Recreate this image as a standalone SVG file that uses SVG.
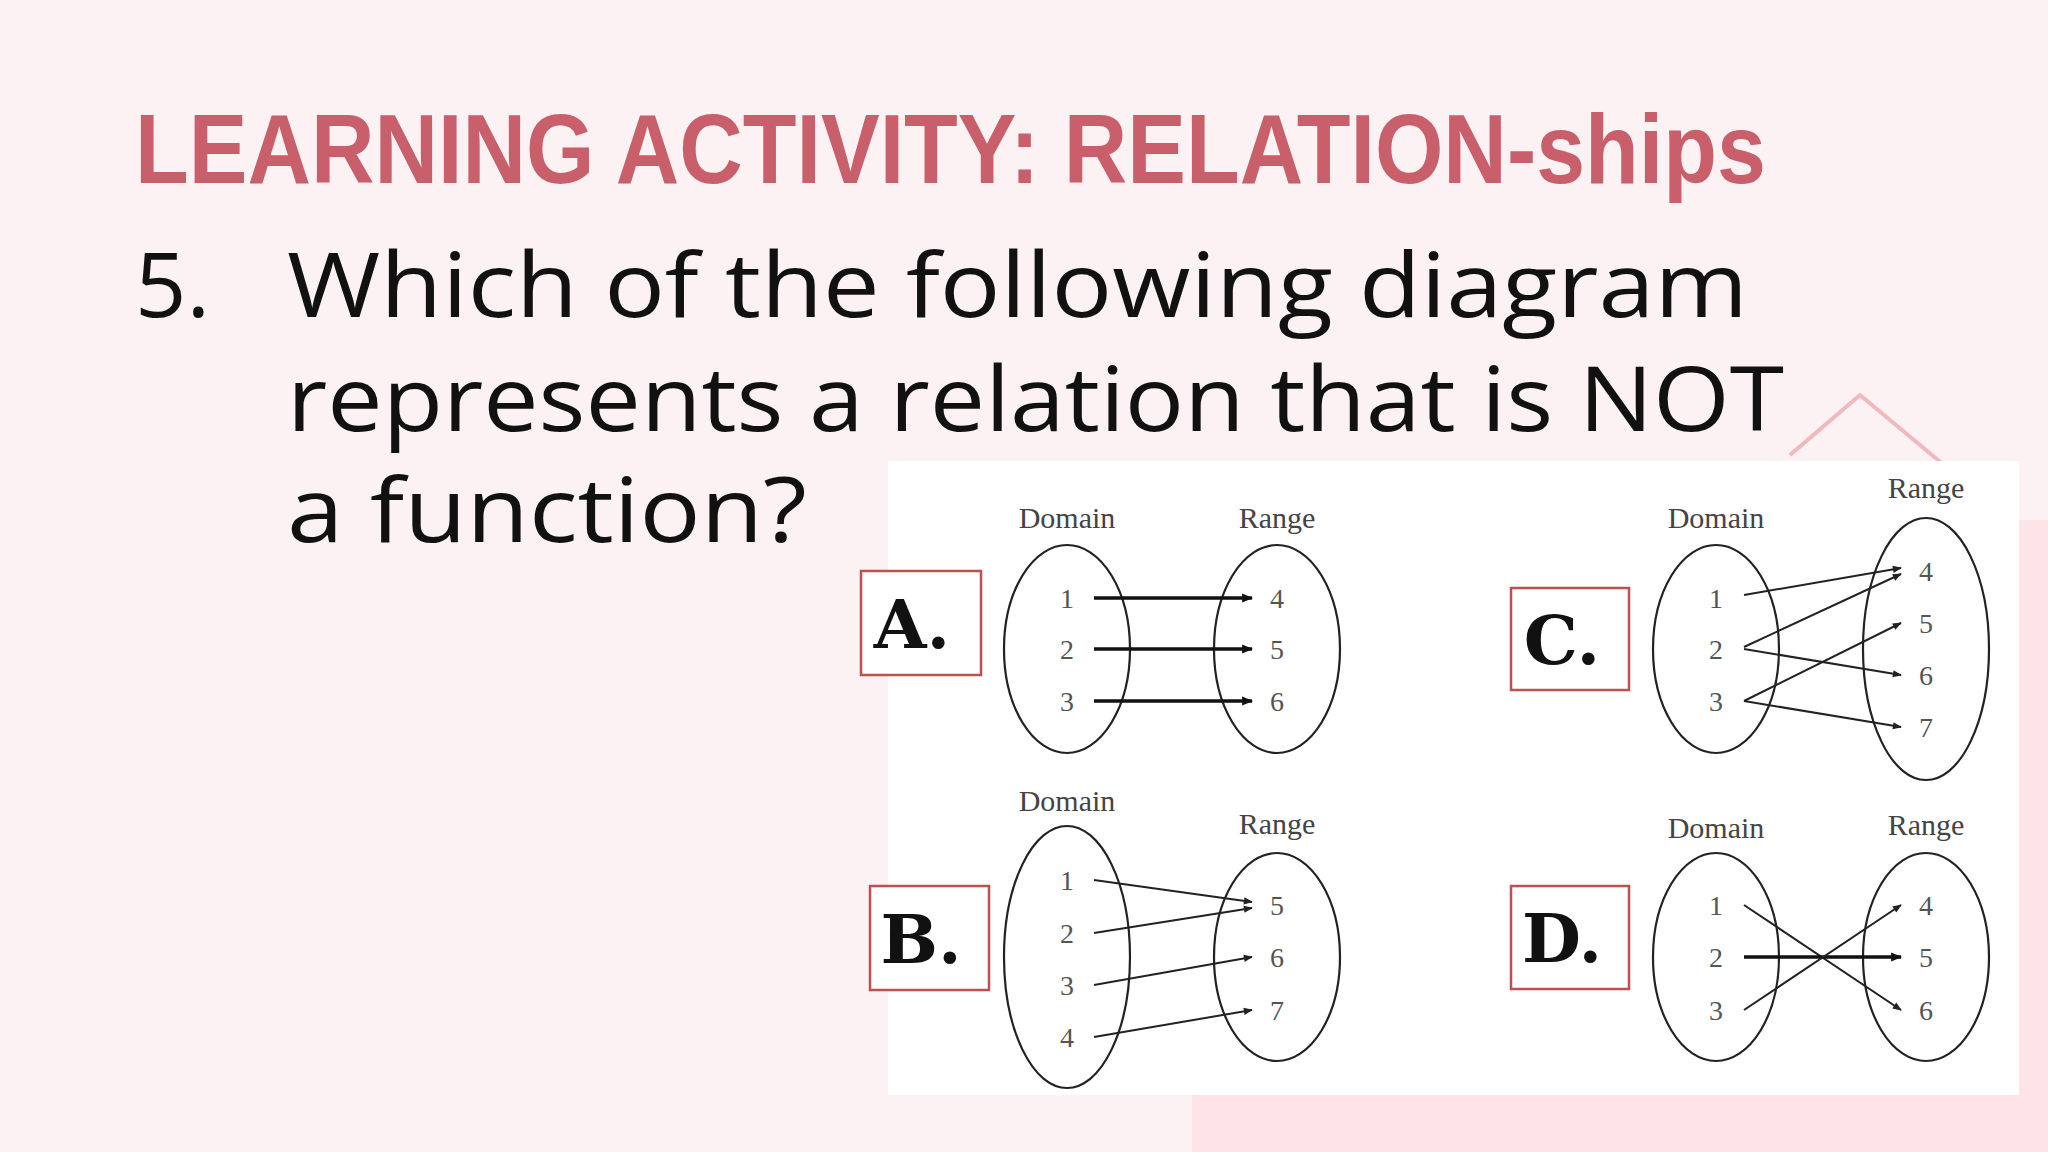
<svg xmlns="http://www.w3.org/2000/svg" width="2048" height="1152" viewBox="0 0 2048 1152">
<defs>
<marker id="ah" viewBox="0 0 10 10" refX="9" refY="5" markerWidth="10" markerHeight="9" markerUnits="userSpaceOnUse" orient="auto"><path d="M0,1 L10,5 L0,9 z" fill="#222"/></marker>
<marker id="ahb" viewBox="0 0 10 10" refX="9" refY="5" markerWidth="13" markerHeight="11" markerUnits="userSpaceOnUse" orient="auto"><path d="M0,1 L10,5 L0,9 z" fill="#111"/></marker>
</defs>
<style>
.ell{fill:none;stroke:#222;stroke-width:2.2}
.lbl{font-family:"Liberation Serif",serif;font-size:30px;fill:#444;text-anchor:middle}
.num{font-family:"Liberation Serif",serif;font-size:28px;fill:#555;text-anchor:middle}
.ar{stroke:#222;stroke-width:2;fill:none;marker-end:url(#ah)}
.arb{stroke:#111;stroke-width:3.5;fill:none;marker-end:url(#ahb)}
.box{fill:#fff;stroke:#c0504d;stroke-width:2.5}
.let{font-family:"DejaVu Serif",serif;font-weight:bold;font-size:68px;fill:#111;text-anchor:middle}
.q{font-family:"Open Sans","Liberation Sans",sans-serif;font-size:90px;fill:#111}
</style>
<rect width="2048" height="1152" fill="#fdf2f3"/>
<rect x="1192" y="1090" width="856" height="62" fill="#fde4e7"/>
<rect x="2015" y="520" width="33" height="632" fill="#fde4e7"/>
<path d="M1790,455 L1860,395 L1950,470" fill="none" stroke="#f2b8be" stroke-width="4"/>
<text x="135" y="183" font-family="Liberation Sans,sans-serif" font-weight="bold" font-size="98" fill="#c95f6a" textLength="1631" lengthAdjust="spacingAndGlyphs">LEARNING ACTIVITY: RELATION-ships</text>
<text class="q" x="135" y="317">5.</text>
<text class="q" x="287" y="317" textLength="1461" lengthAdjust="spacingAndGlyphs">Which of the following diagram</text>
<text class="q" x="287" y="431" textLength="1497" lengthAdjust="spacingAndGlyphs">represents a relation that is NOT</text>
<text class="q" x="287" y="542" textLength="520" lengthAdjust="spacingAndGlyphs">a function?</text>
<rect x="888" y="461" width="1131" height="634" fill="#fff"/>
<g id="A">
<text class="lbl" x="1067" y="528">Domain</text><text class="lbl" x="1277" y="528">Range</text>
<ellipse class="ell" cx="1067" cy="649" rx="63" ry="104"/><ellipse class="ell" cx="1277" cy="649" rx="63" ry="104"/>
<text class="num" x="1067" y="608">1</text><text class="num" x="1067" y="659">2</text><text class="num" x="1067" y="711">3</text>
<text class="num" x="1277" y="608">4</text><text class="num" x="1277" y="659">5</text><text class="num" x="1277" y="711">6</text>
<rect class="box" x="861" y="571" width="120" height="104"/><text class="let" x="912" y="648">A.</text>
</g>
<g id="B">
<text class="lbl" x="1067" y="811">Domain</text><text class="lbl" x="1277" y="834">Range</text>
<ellipse class="ell" cx="1067" cy="957" rx="63" ry="131"/><ellipse class="ell" cx="1277" cy="957" rx="63" ry="104"/>
<text class="num" x="1067" y="890">1</text><text class="num" x="1067" y="943">2</text><text class="num" x="1067" y="995">3</text><text class="num" x="1067" y="1047">4</text>
<text class="num" x="1277" y="915">5</text><text class="num" x="1277" y="967">6</text><text class="num" x="1277" y="1020">7</text>
<rect class="box" x="870" y="886" width="119" height="104"/><text class="let" x="921" y="963">B.</text>
</g>
<g id="C">
<text class="lbl" x="1716" y="528">Domain</text><text class="lbl" x="1926" y="498">Range</text>
<ellipse class="ell" cx="1716" cy="649" rx="63" ry="104"/><ellipse class="ell" cx="1926" cy="649" rx="63" ry="131"/>
<text class="num" x="1716" y="608">1</text><text class="num" x="1716" y="659">2</text><text class="num" x="1716" y="711">3</text>
<text class="num" x="1926" y="581">4</text><text class="num" x="1926" y="633">5</text><text class="num" x="1926" y="685">6</text><text class="num" x="1926" y="737">7</text>
<rect class="box" x="1511" y="588" width="118" height="102"/><text class="let" x="1562" y="664">C.</text>
</g>
<g id="D">
<text class="lbl" x="1716" y="838">Domain</text><text class="lbl" x="1926" y="835">Range</text>
<ellipse class="ell" cx="1716" cy="957" rx="63" ry="104"/><ellipse class="ell" cx="1926" cy="957" rx="63" ry="104"/>
<text class="num" x="1716" y="915">1</text><text class="num" x="1716" y="967">2</text><text class="num" x="1716" y="1020">3</text>
<text class="num" x="1926" y="915">4</text><text class="num" x="1926" y="967">5</text><text class="num" x="1926" y="1020">6</text>
<rect class="box" x="1511" y="886" width="118" height="103"/><text class="let" x="1562" y="962">D.</text>
</g>
<g id="connectors">
<line class="arb" x1="1094" y1="598" x2="1252" y2="598"/>
<line class="arb" x1="1094" y1="649" x2="1252" y2="649"/>
<line class="arb" x1="1094" y1="701" x2="1252" y2="701"/>
<line class="ar" x1="1094" y1="880" x2="1252" y2="902"/>
<line class="ar" x1="1094" y1="933" x2="1252" y2="908"/>
<line class="ar" x1="1094" y1="985" x2="1252" y2="957"/>
<line class="ar" x1="1094" y1="1037" x2="1252" y2="1010"/>
<line class="ar" x1="1744" y1="595" x2="1901" y2="568"/>
<line class="ar" x1="1744" y1="647" x2="1901" y2="574"/>
<line class="ar" x1="1744" y1="649" x2="1901" y2="675"/>
<line class="ar" x1="1744" y1="701" x2="1901" y2="623"/>
<line class="ar" x1="1744" y1="701" x2="1901" y2="727"/>
<line class="ar" x1="1744" y1="905" x2="1901" y2="1010"/>
<line class="arb" x1="1744" y1="957" x2="1901" y2="957"/>
<line class="ar" x1="1744" y1="1010" x2="1901" y2="905"/>
</g>
</svg>
